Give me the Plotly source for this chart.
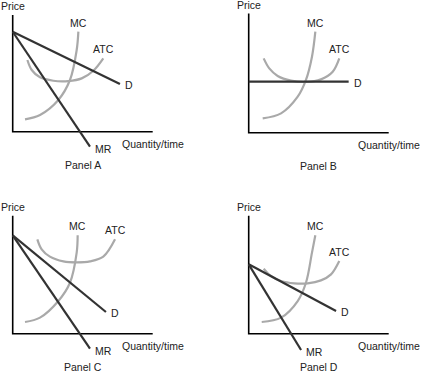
import plotly.graph_objects as go

# ---------------- data (Quantity/time on x, Price on y; axes run 0..10) ----------------
panels = ["Panel A", "Panel B", "Panel C", "Panel D"]
axis_x_len = [10.0, 10.0, 10.0, 10.0]
axis_y_len = [9.9, 10.1, 10.0, 10.0]

# Panel A
a_mc_x = [0.88, 1.95, 3.26, 4.09, 4.57, 4.69]
a_mc_y = [1.05, 1.42, 2.69, 4.38, 6.92, 8.48]
a_atc_x = [1.05, 1.36, 1.95, 2.90, 3.97, 4.93, 5.76, 6.47]
a_atc_y = [6.08, 5.23, 4.61, 4.32, 4.29, 4.52, 5.17, 6.22]
a_d_x = [0.0, 7.66]
a_d_y = [8.47, 4.04]
a_mr_x = [0.0, 5.52]
a_mr_y = [8.47, -1.27]

# Panel B
b_mc_x = [1.00, 2.31, 3.50, 4.09, 4.52, 4.76]
b_mc_y = [1.22, 1.64, 3.05, 4.47, 6.44, 8.56]
b_atc_x = [1.07, 1.47, 2.07, 3.02, 4.09, 5.16, 6.00, 6.47]
b_atc_y = [6.30, 5.45, 4.81, 4.41, 4.30, 4.52, 5.17, 6.30]
b_d_x = [0.0, 7.14]
b_d_y = [4.32, 4.32]

# Panel C
c_mc_x = [0.88, 1.95, 3.26, 4.09, 4.57, 4.64]
c_mc_y = [0.99, 1.36, 2.77, 4.32, 6.87, 8.34]
c_atc_x = [1.76, 2.07, 2.66, 3.62, 4.57, 5.52, 6.47, 7.31]
c_atc_y = [8.00, 7.15, 6.53, 6.13, 6.05, 6.13, 6.53, 8.00]
c_d_x = [0.0, 6.66]
c_d_y = [8.34, 1.84]
c_mr_x = [0.0, 5.52]
c_mr_y = [8.34, -1.27]

# Panel D
d_mc_x = [0.93, 2.31, 3.50, 4.09, 4.52, 4.76]
d_mc_y = [0.99, 1.36, 2.77, 4.32, 6.87, 8.34]
d_atc_x = [1.07, 1.59, 2.31, 3.26, 4.21, 5.16, 5.88, 6.47]
d_atc_y = [5.51, 4.89, 4.47, 4.27, 4.27, 4.52, 5.03, 6.16]
d_d_x = [0.0, 6.24]
d_d_y = [5.88, 1.92]
d_mr_x = [0.0, 3.74]
d_mr_y = [5.88, -1.38]

curves = [
    dict(mc=(a_mc_x, a_mc_y), atc=(a_atc_x, a_atc_y), d=(a_d_x, a_d_y), mr=(a_mr_x, a_mr_y)),
    dict(mc=(b_mc_x, b_mc_y), atc=(b_atc_x, b_atc_y), d=(b_d_x, b_d_y), mr=None),
    dict(mc=(c_mc_x, c_mc_y), atc=(c_atc_x, c_atc_y), d=(c_d_x, c_d_y), mr=(c_mr_x, c_mr_y)),
    dict(mc=(d_mc_x, d_mc_y), atc=(d_atc_x, d_atc_y), d=(d_d_x, d_d_y), mr=(d_mr_x, d_mr_y)),
]

# ---------------- layout geometry ----------------
W, H = 422, 372
SX, SY = 14.0, 11.8  # px per unit
origins = [(12.7, 131.7), (248.7, 132.7), (12.7, 333.7), (248.7, 333.7)]
cells = [(0, 211, 0, 186), (211, 422, 0, 186), (0, 211, 186, 372), (211, 422, 186, 372)]

FONT = dict(family="Liberation Sans, Arial, Helvetica, sans-serif", size=10.5, color="#222")
GRAY = "#a9a9a9"
DARK = "#333333"

fig = go.Figure()
layout = dict(width=W, height=H, margin=dict(l=0, r=0, t=0, b=0),
              paper_bgcolor="white", plot_bgcolor="white", showlegend=False)
annotations = []

for i in range(4):
    sfx = "" if i == 0 else str(i + 1)
    xa, ya = "x" + sfx, "y" + sfx
    ox, oy = origins[i]
    x0, x1, y0, y1 = cells[i]
    layout["xaxis" + sfx] = dict(domain=[x0 / W, x1 / W],
                                 range=[(x0 - ox) / SX, (x1 - ox) / SX],
                                 visible=False, fixedrange=True)
    layout["yaxis" + sfx] = dict(domain=[1 - y1 / H, 1 - y0 / H],
                                 range=[(oy - y1) / SY, (oy - y0) / SY],
                                 visible=False, fixedrange=True)
    c = curves[i]
    xl, yl = axis_x_len[i], axis_y_len[i]
    # axes
    fig.add_trace(go.Scatter(x=[0, 0, xl], y=[yl, 0, 0], mode="lines",
                             line=dict(color="black", width=1.6), xaxis=xa, yaxis=ya,
                             hoverinfo="skip"))
    # MC and ATC (light gray, smooth)
    for key in ("atc", "mc"):
        fig.add_trace(go.Scatter(x=c[key][0], y=c[key][1], mode="lines",
                                 line=dict(color=GRAY, width=2.2, shape="spline", smoothing=1.0),
                                 xaxis=xa, yaxis=ya, hoverinfo="skip"))
    # D and MR (dark)
    for key in ("d", "mr"):
        if c[key] is None:
            continue
        fig.add_trace(go.Scatter(x=c[key][0], y=c[key][1], mode="lines",
                                 line=dict(color=DARK, width=2.2),
                                 xaxis=xa, yaxis=ya, hoverinfo="skip"))

    def ann(text, x, y, xanchor="center", yanchor="middle", xshift=0, yshift=0):
        annotations.append(dict(text=text, x=x, y=y, xref=xa, yref=ya, showarrow=False,
                                xanchor=xanchor, yanchor=yanchor, xshift=xshift,
                                yshift=yshift, font=FONT))

    ann("Price", 0, yl, yanchor="bottom", yshift=1)
    ann("Quantity/time", xl, 0, yanchor="top", yshift=-4)
    ann(panels[i], xl / 2, 0, yanchor="top", yshift=-25)
    ann("MC", c["mc"][0][-1], c["mc"][1][-1], yanchor="bottom", yshift=1)
    ann("ATC", c["atc"][0][-1], c["atc"][1][-1], yanchor="bottom", yshift=1)
    ann("D", c["d"][0][-1], c["d"][1][-1], xanchor="left", xshift=3, yshift=-1)
    if c["mr"] is not None:
        ann("MR", c["mr"][0][-1], c["mr"][1][-1], xanchor="left", xshift=3, yshift=-2)

layout["annotations"] = annotations
fig.update_layout(**layout)
fig.write_html("out.html", config={"displayModeBar": False},
               post_script="document.body.style.margin='0';document.body.style.overflow='hidden';")
